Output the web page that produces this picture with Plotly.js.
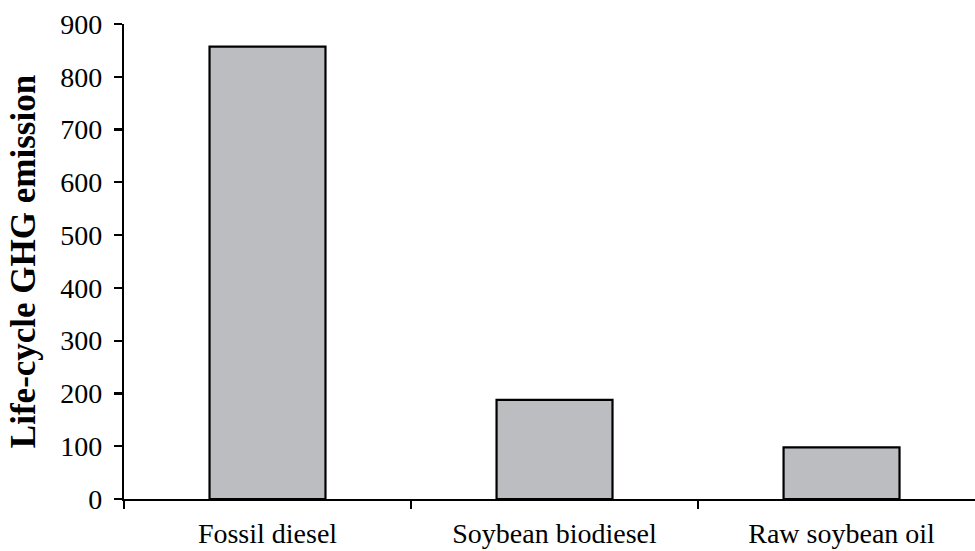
<!DOCTYPE html>
<html>
<head>
<meta charset="utf-8">
<script src="https://cdn.plot.ly/plotly-3.0.1.min.js"></script>
<style>html,body{margin:0;padding:0;background:#fff;}#chart{width:975px;height:551px;}</style>
</head>
<body>
<div id="chart"></div>
<script>
const categories = ["Fossil diesel", "Soybean biodiesel", "Raw soybean oil"];
const emissions = [857, 188, 98];
const yTicks = [0, 100, 200, 300, 400, 500, 600, 700, 800, 900];
const yTitle = "Life-cycle GHG emission";

const trace = {
  type: "bar",
  x: categories,
  y: emissions,
  width: 0.404,
  marker: { color: "#bcbdc1", line: { color: "#000", width: 2.2 } },
  hoverinfo: "x+y"
};

const layout = {
  width: 975,
  height: 551,
  margin: { l: 124, r: 0, t: 24, b: 52, pad: 0 },
  paper_bgcolor: "#fff",
  plot_bgcolor: "#fff",
  showlegend: false,
  font: { family: "Liberation Serif, Times New Roman, serif", color: "#000", size: 28 },
  xaxis: {
    type: "category",
    range: [-0.5, 2.465],
    showline: true, linecolor: "#000", linewidth: 2.2,
    ticks: "outside", tickson: "boundaries", ticklen: 8, tickwidth: 2.2, tickcolor: "#000",
    showgrid: false, zeroline: false,
    tickfont: { size: 28 },
    ticklabelstandoff: 8
  },
  yaxis: {
    range: [0, 900],
    tickvals: yTicks,
    ticktext: yTicks.map(String),
    showline: true, linecolor: "#000", linewidth: 2.2,
    ticks: "outside", ticklen: 8, tickwidth: 2.2, tickcolor: "#000",
    showgrid: false, zeroline: false,
    tickfont: { size: 28 },
    ticklabelstandoff: 6,
    title: { text: yTitle, font: { size: 35, weight: "bold" }, standoff: 14 }
  }
};

Plotly.newPlot("chart", [trace], layout, { displayModeBar: false, staticPlot: true });
</script>
</body>
</html>
